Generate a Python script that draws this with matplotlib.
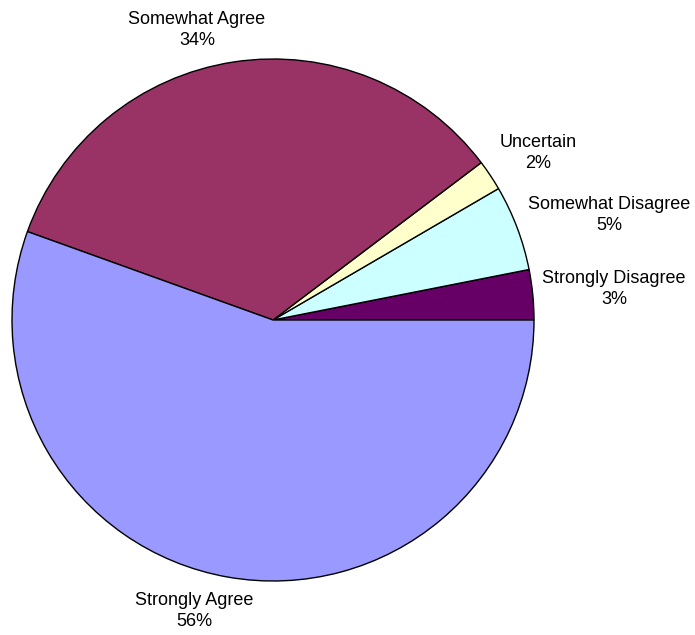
import matplotlib
matplotlib.use("Agg")
import matplotlib.pyplot as plt

# Data, counter-clockwise from 3 o'clock
categories = ["Strongly Disagree", "Somewhat Disagree", "Uncertain",
              "Somewhat Agree", "Strongly Agree"]
shares = [3.1, 5.3, 1.9, 34.2, 55.5]
share_labels = ["3%", "5%", "2%", "34%", "56%"]
colors = ["#660066", "#CCFFFF", "#FFFFCC", "#993366", "#9999FF"]

# label anchors (pixel coords, origin bottom-left) as Excel placed them
label_pos = [(614, 346), (609, 420), (538, 482), (197, 605), (194, 24)]

plt.rcParams["font.family"] = ["Liberation Sans", "DejaVu Sans"]

fig = plt.figure(figsize=(6.95, 6.35), dpi=100)
ax = fig.add_axes([0, 0, 1, 1])

ax.pie(shares, colors=colors, startangle=0, counterclock=True,
       center=(273, 315), radius=261, frame=True,
       wedgeprops=dict(edgecolor="black", linewidth=1.0))
ax.set_xlim(0, 695)
ax.set_ylim(0, 635)
ax.set_aspect("equal")
ax.axis("off")

for name, lab, (x, y) in zip(categories, share_labels, label_pos):
    ax.text(x, y, f"{name}\n{lab}", ha="center", va="center",
            fontsize=13, linespacing=1.32, color="black")

fig.savefig("out.png", dpi=100)
